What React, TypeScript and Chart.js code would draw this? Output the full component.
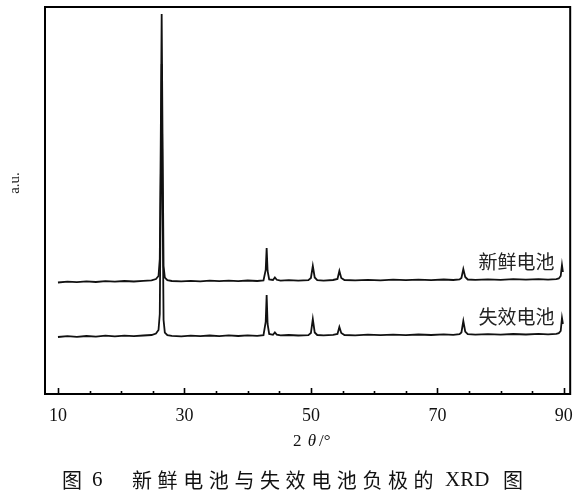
import React, { useEffect, useRef } from "react";
import { Chart, registerables } from "chart.js";

Chart.register(...registerables);

// 2θ positions (degrees)
const twoTheta = [
  10.0, 11.5, 13.0, 14.5, 16.0, 17.5, 19.0, 20.5, 22.0, 23.5, 24.8, 25.5, 25.9, 26.1, 26.25, 26.4, 26.55, 26.7, 26.9,
  27.3, 28.0, 29.5, 31.0, 32.5, 34.0, 35.5, 37.0, 38.5, 40.0, 41.5, 42.5, 42.85, 43.0, 43.15, 43.4, 44.0, 44.3, 44.6,
  45.2, 46.5, 48.0, 49.6, 50.0, 50.3, 50.6, 51.0, 52.0, 53.5, 54.2, 54.5, 54.8, 55.3, 57.0, 59.0, 61.0, 63.0, 65.0,
  67.0, 69.0, 71.0, 72.5, 73.5, 73.8, 74.1, 74.4, 74.8, 76.0, 78.0, 80.0, 82.0, 84.0, 86.0, 87.5, 88.8, 89.2, 89.5,
  89.7, 89.85,
];

// Fresh battery anode (offset upward)
const freshIntensity = [
  111.5, 112.3, 111.8, 112.6, 112.0, 112.9, 112.3, 113.0, 112.5, 113.2, 113.6, 115.0, 118.0, 135.0, 250.0, 380.0, 245.0,
  128.0, 116.5, 113.8, 113.0, 112.6, 113.2, 112.7, 113.3, 112.8, 113.4, 112.9, 113.5, 113.0, 113.6, 124.0, 146.0, 123.0,
  114.5, 114.0, 116.5, 114.2, 113.4, 113.9, 113.3, 113.8, 116.0, 128.0, 116.5, 113.9, 113.4, 114.0, 115.0, 123.0, 116.0,
  114.0, 113.6, 114.2, 113.7, 114.3, 113.8, 114.4, 113.9, 114.5, 114.0, 114.6, 116.0, 125.0, 117.0, 114.5, 114.2, 114.7,
  114.1, 114.8, 114.3, 114.9, 114.4, 114.9, 115.5, 118.0, 129.0, 122.0,
];

// Failed battery anode
const failedIntensity = [
  57.0, 57.8, 57.2, 58.0, 57.4, 58.3, 57.6, 58.4, 57.9, 58.5, 59.0, 60.5, 64.0, 80.0, 200.0, 330.0, 190.0, 74.0, 61.5,
  58.8, 58.2, 57.6, 58.3, 57.8, 58.5, 57.9, 58.6, 58.0, 58.7, 58.1, 58.8, 72.0, 99.0, 70.0, 60.0, 59.2, 61.5, 59.4, 58.6,
  59.0, 58.5, 58.9, 61.0, 75.0, 61.5, 59.0, 58.6, 59.2, 60.0, 67.0, 61.0, 59.0, 58.7, 59.3, 58.8, 59.4, 58.9, 59.5, 59.0,
  59.6, 59.1, 59.8, 61.5, 73.0, 62.5, 59.8, 59.3, 59.9, 59.4, 60.0, 59.5, 60.1, 59.6, 60.2, 60.8, 63.0, 76.0, 70.0,
];

const seriesNames = ["新鲜电池", "失效电池"];
const xTickLabels = [10, 30, 50, 70, 90];
const xMinorTicks = [15, 20, 25, 35, 40, 45, 55, 60, 65, 75, 80, 85];
const xTitle = { pre: "2 ", theta: "θ", post: "/°" };
const yTitle = "a.u.";
const captionParts = { fig: "图 6", text: "新鲜电池与失效电池负极的", xrd: "XRD", end: "图" };

const SERIF = '"Liberation Serif", "DejaVu Serif", serif';
const CJK = '"Noto Sans CJK SC", sans-serif';

const decorPlugin = {
  id: "decor",
  afterDraw(chart: any) {
    const { ctx, chartArea, scales } = chart;
    const xs = scales.x;
    const ys = scales.y;
    ctx.save();
    // frame
    ctx.strokeStyle = "#000";
    ctx.lineWidth = 2;
    ctx.strokeRect(chartArea.left, chartArea.top, chartArea.right - chartArea.left, chartArea.bottom - chartArea.top);
    // inward ticks
    ctx.lineWidth = 1.6;
    ctx.beginPath();
    for (const v of xTickLabels) {
      const px = Math.round(xs.getPixelForValue(v)) + 0.5;
      ctx.moveTo(px, chartArea.bottom);
      ctx.lineTo(px, chartArea.bottom - 6);
    }
    for (const v of xMinorTicks) {
      const px = Math.round(xs.getPixelForValue(v)) + 0.5;
      ctx.moveTo(px, chartArea.bottom);
      ctx.lineTo(px, chartArea.bottom - 3);
    }
    ctx.stroke();

    // series labels
    ctx.fillStyle = "#222";
    ctx.font = `19px ${CJK}`;
    ctx.textAlign = "right";
    ctx.textBaseline = "middle";
    ctx.fillText(seriesNames[0], xs.getPixelForValue(88.5), ys.getPixelForValue(132));
    ctx.fillText(seriesNames[1], xs.getPixelForValue(88.5), ys.getPixelForValue(77));

    // y title
    ctx.save();
    ctx.translate(15, 183);
    ctx.rotate(-Math.PI / 2);
    ctx.font = `15px ${SERIF}`;
    ctx.textAlign = "center";
    ctx.fillStyle = "#222";
    ctx.fillText(yTitle, 0, 0);
    ctx.restore();

    // x title
    ctx.textAlign = "left";
    ctx.fillStyle = "#111";
    let tx = 293;
    const ty = 442;
    ctx.font = `17px ${SERIF}`;
    ctx.fillText(xTitle.pre, tx, ty);
    tx += ctx.measureText(xTitle.pre).width + 2;
    ctx.font = `italic 17px ${SERIF}`;
    ctx.fillText(xTitle.theta, tx, ty);
    tx += ctx.measureText(xTitle.theta).width + 3;
    ctx.font = `17px ${SERIF}`;
    ctx.fillText(xTitle.post, tx, ty);

    // caption
    const cy = 480;
    ctx.fillStyle = "#111";
    ctx.font = `20px ${CJK}`;
    ctx.fillText(captionParts.fig.slice(0, 1), 62, cy);
    ctx.font = `21px ${SERIF}`;
    ctx.fillText(captionParts.fig.slice(2), 92, cy);
    ctx.font = `20px ${CJK}`;
    (ctx as any).letterSpacing = "5.6px";
    ctx.fillText(captionParts.text, 132, cy);
    (ctx as any).letterSpacing = "0px";
    ctx.font = `21px ${SERIF}`;
    ctx.fillText(captionParts.xrd, 445, cy);
    ctx.font = `20px ${CJK}`;
    ctx.fillText(captionParts.end, 503, cy);
    ctx.restore();
  },
};

export default function App() {
  const ref = useRef<HTMLCanvasElement | null>(null);

  useEffect(() => {
    document.body.style.margin = "0";
    const canvas = ref.current;
    if (!canvas) return;
    const chart = new Chart(canvas, {
      type: "line",
      data: {
        datasets: [
          {
            label: seriesNames[0],
            data: twoTheta.map((x, i) => ({ x, y: freshIntensity[i] })),
            borderColor: "#111",
            borderWidth: 1.8,
            pointRadius: 0,
            tension: 0,
            fill: false,
          },
          {
            label: seriesNames[1],
            data: twoTheta.map((x, i) => ({ x, y: failedIntensity[i] })),
            borderColor: "#111",
            borderWidth: 1.8,
            pointRadius: 0,
            tension: 0,
            fill: false,
          },
        ],
      },
      options: {
        animation: false,
        responsive: false,
        devicePixelRatio: 1,
        layout: { padding: { left: 45, top: 7, right: 11, bottom: 0 } },
        plugins: {
          legend: { display: false },
          tooltip: { enabled: false },
          title: { display: false },
        },
        scales: {
          x: {
            type: "linear",
            min: 7.95,
            max: 91,
            grid: { display: false, drawTicks: false },
            border: { display: false },
            afterBuildTicks: (scale: any) => {
              scale.ticks = xTickLabels.map((v) => ({ value: v }));
            },
            afterFit: (scale: any) => {
              scale.height = 106;
            },
            ticks: {
              padding: 11,
              color: "#111",
              font: { family: SERIF, size: 18 },
              callback: (v: any) => String(v),
            },
          },
          y: {
            type: "linear",
            display: false,
            min: 0,
            max: 387,
          },
        },
      },
      plugins: [decorPlugin],
    });
    return () => chart.destroy();
  }, []);

  return (
    <div style={{ width: 584, height: 500 }}>
      <canvas ref={ref} width={584} height={500} style={{ display: "block" }} />
    </div>
  );
}
